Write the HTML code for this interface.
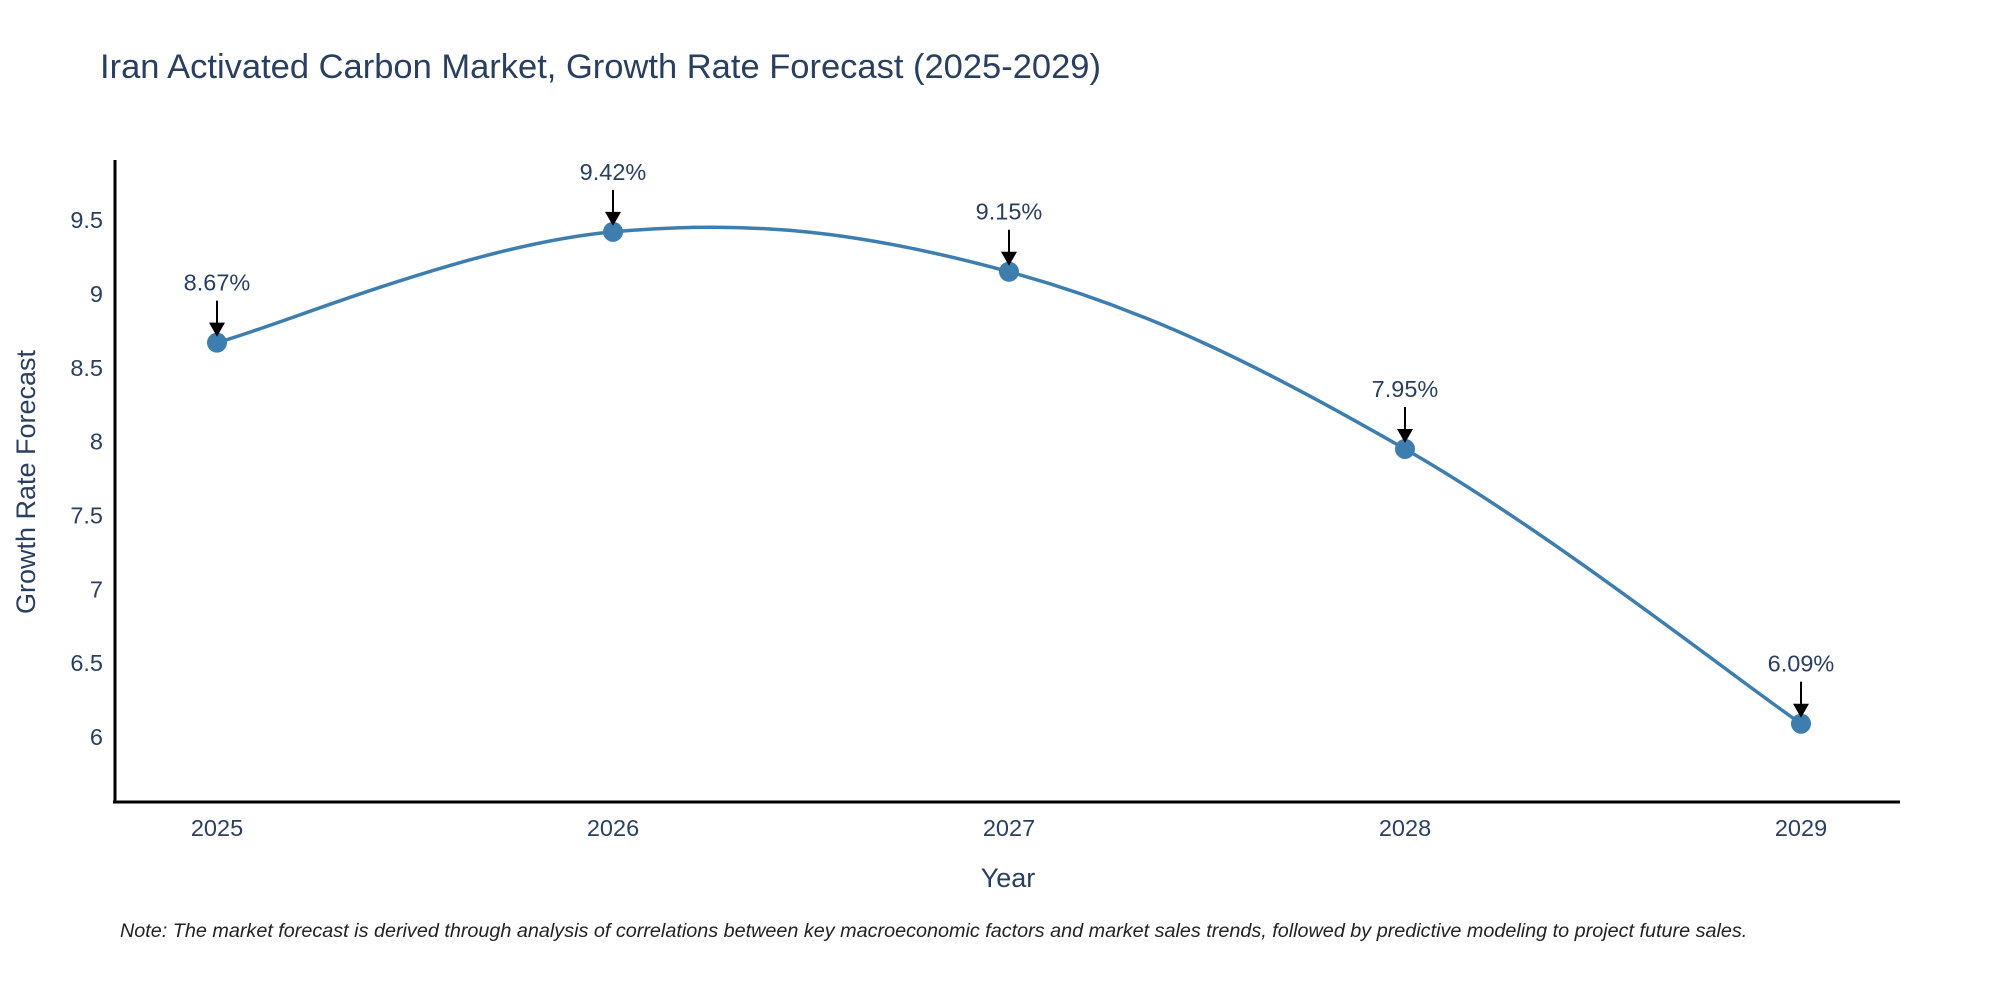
<!DOCTYPE html>
<html><head><meta charset="utf-8"><style>
body{margin:0;background:#fff}
svg text{font-family:"Liberation Sans",sans-serif;fill:#2a3f5f}
</style></head><body>
<svg id="c" width="2000" height="1000" xmlns="http://www.w3.org/2000/svg">
<text x="100" y="78" font-size="34.5">Iran Activated Carbon Market, Growth Rate Forecast (2025-2029)</text>
<g id="yt"></g><g id="xt"></g>
<line x1="115" y1="160" x2="115" y2="803" stroke="#000" stroke-width="3"/>
<line x1="113" y1="802" x2="1900" y2="802" stroke="#000" stroke-width="3"/>
<path id="ln" fill="none" stroke="#3d7eaf" stroke-width="3.5"/>
<g id="pts"></g>
<text x="0" y="0" font-size="27" text-anchor="middle" transform="translate(35,482) rotate(-90)">Growth Rate Forecast</text>
<text x="1008" y="887" font-size="27" text-anchor="middle">Year</text>
<text x="120" y="937" font-size="19.8" font-style="italic" style="fill:#222">Note: The market forecast is derived through analysis of correlations between key macroeconomic factors and market sales trends, followed by predictive modeling to project future sales.</text>
</svg>
<script>
const years=[2025,2026,2027,2028,2029];
const values=[8.67,9.42,9.15,7.95,6.09];
const yTicks=[6,6.5,7,7.5,8,8.5,9,9.5];
const NS="http://www.w3.org/2000/svg";
const X=i=>217+i*396;
const Y=v=>737-(v-6)*147.7;
function mk(t,a,p){const e=document.createElementNS(NS,t);for(const k in a)e.setAttribute(k,a[k]);p.appendChild(e);return e;}
const yt=document.getElementById('yt');
yTicks.forEach(v=>{const t=mk('text',{x:103,y:Y(v)+8,'font-size':23.5,'text-anchor':'end'},yt);t.textContent=String(v);

});
const xt=document.getElementById('xt');
years.forEach((y,i)=>{const t=mk('text',{x:X(i),y:836,'font-size':23.5,'text-anchor':'middle'},xt);t.textContent=String(y);

});
const P=values.map((v,i)=>[X(i),Y(v)]);
let d=`M${P[0][0]},${P[0][1]}`;
for(let i=0;i<P.length-1;i++){const p0=P[i-1]||P[i],p1=P[i],p2=P[i+1],p3=P[i+2]||P[i+1];const k=0.18;
d+=` C${p1[0]+(p2[0]-p0[0])*k},${p1[1]+(p2[1]-p0[1])*k} ${p2[0]-(p3[0]-p1[0])*k},${p2[1]-(p3[1]-p1[1])*k} ${p2[0]},${p2[1]}`;}
document.getElementById('ln').setAttribute('d',d);
const g=document.getElementById('pts');
values.forEach((v,i)=>{const x=X(i),y=Y(v);
const c=mk('circle',{cx:x,cy:y,r:10,fill:'#3d7eaf'},g);


const l=mk('line',{x1:x,y1:y-42,x2:x,y2:y-16,stroke:'#000','stroke-width':2},g);


const a=mk('polygon',{points:`${x-8},${y-20} ${x+8},${y-20} ${x},${y-6}`,fill:'#000'},g);


const t=mk('text',{x:x,y:y-52,'font-size':23.5,'text-anchor':'middle'},g);t.textContent=v.toFixed(2)+'%';

});
</script>
</body></html>
